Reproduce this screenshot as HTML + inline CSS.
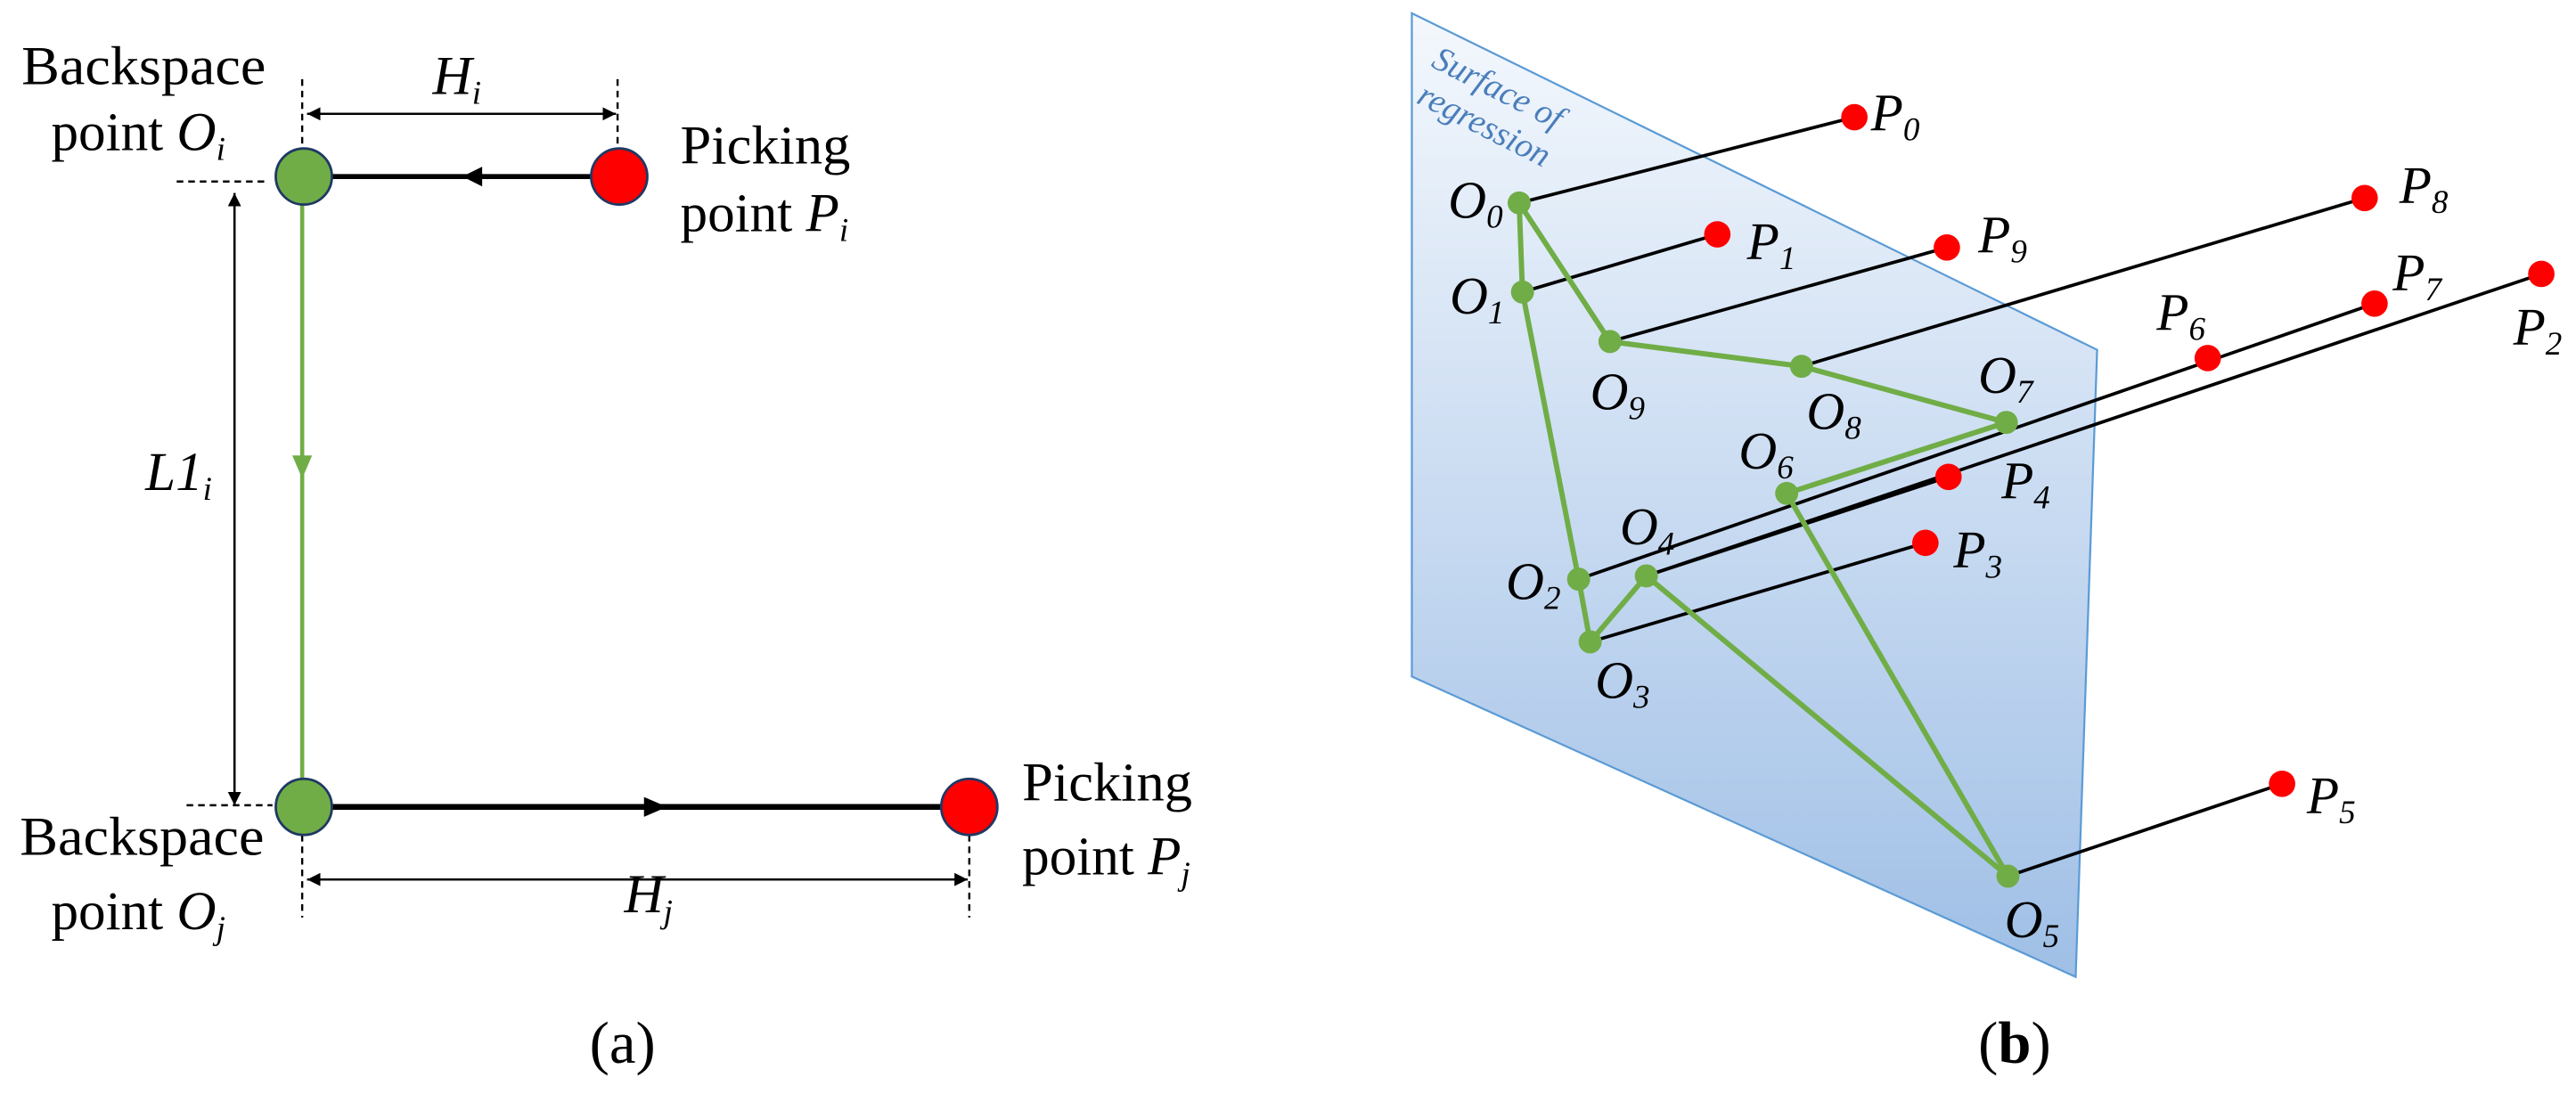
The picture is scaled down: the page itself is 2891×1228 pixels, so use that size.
<!DOCTYPE html>
<html><head><meta charset="utf-8"><style>
html,body{margin:0;padding:0;background:#fff;}
svg{display:block;}
text{font-family:"Liberation Serif","Times New Roman",serif;fill:#000;}
.it{font-style:italic;}
</style></head><body>
<svg width="2891" height="1228" viewBox="0 0 1560 663" preserveAspectRatio="none" xmlns="http://www.w3.org/2000/svg" font-family="Liberation Serif, Times New Roman, serif">
<defs>
<linearGradient id="g" x1="0" y1="0" x2="0" y2="1">
<stop offset="0" stop-color="#f4f8fd"/><stop offset="1" stop-color="#9fbfe6"/>
</linearGradient>
<marker id="ah" viewBox="0 0 10 10" refX="10" refY="5" markerWidth="8" markerHeight="8" markerUnits="userSpaceOnUse" orient="auto"><path d="M0,0L10,5L0,10z" fill="#000"/></marker>
</defs>
<!-- Panel (a) -->
<g stroke="#000" stroke-width="1.3" stroke-dasharray="4,3" fill="none">
<line x1="183" y1="48" x2="183" y2="92"/>
<line x1="374" y1="48" x2="374" y2="92"/>
<line x1="107" y1="110" x2="163" y2="110"/>
<line x1="113" y1="488" x2="165" y2="488"/>
<line x1="183" y1="506" x2="183" y2="556"/>
<line x1="587" y1="506" x2="587" y2="556"/>
</g>
<g stroke="#000" stroke-width="1.3">
<line x1="186" y1="69" x2="373" y2="69" marker-end="url(#ah)"/>
<line x1="373" y1="69" x2="186" y2="69" marker-end="url(#ah)"/>
<line x1="142" y1="488" x2="142" y2="117" marker-end="url(#ah)"/>
<line x1="142" y1="117" x2="142" y2="488" marker-end="url(#ah)"/>
<line x1="186" y1="533" x2="586" y2="533" marker-end="url(#ah)"/>
<line x1="586" y1="533" x2="186" y2="533" marker-end="url(#ah)"/>
</g>
<line x1="185" y1="107" x2="375" y2="107" stroke="#000" stroke-width="3"/>
<path d="M280,107 L292,101 L292,113z" fill="#000"/>
<line x1="183" y1="107" x2="183" y2="489" stroke="#70ad47" stroke-width="2.5"/>
<path d="M183,290 L177,276 L189,276z" fill="#70ad47"/>
<line x1="183" y1="489" x2="587" y2="489" stroke="#000" stroke-width="3.5"/>
<path d="M404,489 L390,483 L390,495z" fill="#000"/>
<circle cx="184" cy="107" r="17" fill="#70ad47" stroke="#1f3864" stroke-width="1.5"/>
<circle cx="375" cy="107" r="17" fill="#ff0000" stroke="#1f3864" stroke-width="1.5"/>
<circle cx="184" cy="489" r="17" fill="#70ad47" stroke="#1f3864" stroke-width="1.5"/>
<circle cx="587" cy="489" r="17" fill="#ff0000" stroke="#1f3864" stroke-width="1.5"/>
<g font-size="33">
<text x="13" y="51" textLength="148" lengthAdjust="spacingAndGlyphs">Backspace</text>
<text x="31" y="91">point <tspan class="it">O</tspan><tspan class="it" font-size="20" dy="6">i</tspan></text>
<text x="412" y="99" textLength="103" lengthAdjust="spacingAndGlyphs">Picking</text>
<text x="412" y="140">point <tspan class="it">P</tspan><tspan class="it" font-size="20" dy="6">i</tspan></text>
<text x="12" y="518" textLength="148" lengthAdjust="spacingAndGlyphs">Backspace</text>
<text x="31" y="563">point <tspan class="it">O</tspan><tspan class="it" font-size="20" dy="6">j</tspan></text>
<text x="619" y="485" textLength="103" lengthAdjust="spacingAndGlyphs">Picking</text>
<text x="619" y="530">point <tspan class="it">P</tspan><tspan class="it" font-size="20" dy="6">j</tspan></text>
<text x="262" y="57" class="it">H<tspan font-size="20" dy="6">i</tspan></text>
<text x="378" y="553" class="it">H<tspan font-size="20" dy="6">j</tspan></text>
<text x="88" y="297" class="it">L1<tspan font-size="20" dy="6">i</tspan></text>
</g>
<text x="377" y="644" font-size="36" text-anchor="middle">(a)</text>
<!-- Panel (b) -->
<polygon points="855,8 1270,212 1257,592 855,410" fill="url(#g)" stroke="#5b9bd5" stroke-width="1.2"/>
<text x="866" y="40" font-size="21" class="it" transform="rotate(27 866 40)" style="fill:#4a7ebb">Surface of</text>
<text x="857" y="62" font-size="21" class="it" transform="rotate(27 857 62)" style="fill:#4a7ebb">regression</text>
<g stroke="#000" stroke-width="2">
<line x1="920" y1="123" x2="1123" y2="71"/>
<line x1="922" y1="177" x2="1040" y2="142"/>
<line x1="975" y1="207" x2="1179" y2="150"/>
<line x1="1091" y1="222" x2="1432" y2="120"/>
<line x1="956" y1="351" x2="1438" y2="184"/>
<line x1="997" y1="349" x2="1539" y2="166"/>
<line x1="997" y1="349" x2="1180" y2="289"/>
<line x1="963" y1="389" x2="1166" y2="329"/>
<line x1="1216" y1="531" x2="1382" y2="475"/>
</g>
<polygon points="920,123 922,177 956,351 963,389 997,349 1216,531 1082,299 1215,256 1091,222 975,207" fill="none" stroke="#70ad47" stroke-width="3.2" stroke-linejoin="round"/>
<g fill="#70ad47">
<circle cx="920" cy="123" r="7"/><circle cx="922" cy="177" r="7"/><circle cx="975" cy="207" r="7"/>
<circle cx="1091" cy="222" r="7"/><circle cx="1215" cy="256" r="7"/><circle cx="1082" cy="299" r="7"/>
<circle cx="956" cy="351" r="7"/><circle cx="997" cy="349" r="7"/><circle cx="963" cy="389" r="7"/>
<circle cx="1216" cy="531" r="7"/>
</g>
<g fill="#ff0000">
<circle cx="1123" cy="71" r="8"/><circle cx="1040" cy="142" r="8"/><circle cx="1179" cy="150" r="8"/>
<circle cx="1432" cy="120" r="8"/><circle cx="1438" cy="184" r="8"/><circle cx="1337" cy="217" r="8"/>
<circle cx="1539" cy="166" r="8"/><circle cx="1180" cy="289" r="8"/><circle cx="1166" cy="329" r="8"/>
<circle cx="1382" cy="475" r="8"/>
</g>
<g font-size="32" class="it">
<text x="877" y="132">O<tspan font-size="20" dy="6">0</tspan></text>
<text x="878" y="190">O<tspan font-size="20" dy="6">1</tspan></text>
<text x="963" y="248">O<tspan font-size="20" dy="6">9</tspan></text>
<text x="1094" y="260">O<tspan font-size="20" dy="6">8</tspan></text>
<text x="1198" y="238">O<tspan font-size="20" dy="6">7</tspan></text>
<text x="1053" y="284">O<tspan font-size="20" dy="6">6</tspan></text>
<text x="981" y="330">O<tspan font-size="20" dy="6">4</tspan></text>
<text x="912" y="363">O<tspan font-size="20" dy="6">2</tspan></text>
<text x="966" y="423">O<tspan font-size="20" dy="6">3</tspan></text>
<text x="1214" y="568">O<tspan font-size="20" dy="6">5</tspan></text>
<text x="1133" y="79">P<tspan font-size="20" dy="6">0</tspan></text>
<text x="1058" y="157">P<tspan font-size="20" dy="6">1</tspan></text>
<text x="1198" y="153">P<tspan font-size="20" dy="6">9</tspan></text>
<text x="1453" y="123">P<tspan font-size="20" dy="6">8</tspan></text>
<text x="1449" y="176">P<tspan font-size="20" dy="6">7</tspan></text>
<text x="1306" y="200">P<tspan font-size="20" dy="6">6</tspan></text>
<text x="1522" y="209">P<tspan font-size="20" dy="6">2</tspan></text>
<text x="1212" y="302">P<tspan font-size="20" dy="6">4</tspan></text>
<text x="1183" y="344">P<tspan font-size="20" dy="6">3</tspan></text>
<text x="1397" y="493">P<tspan font-size="20" dy="6">5</tspan></text>
</g>
<text x="1220" y="644" font-size="36" text-anchor="middle">(<tspan font-weight="bold">b</tspan>)</text>
</svg>
</body></html>
